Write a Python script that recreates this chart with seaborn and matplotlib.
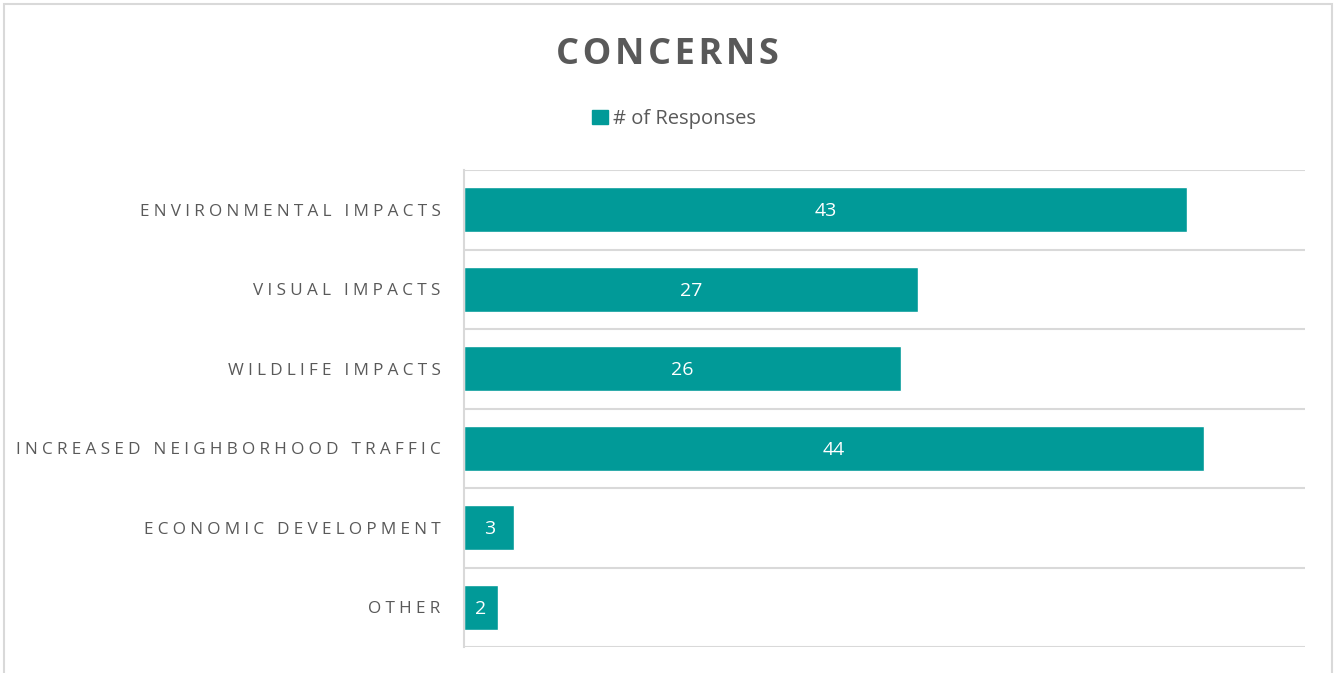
import matplotlib
matplotlib.use("Agg")
import matplotlib.pyplot as plt
import seaborn as sns
import pandas as pd
from matplotlib.patches import Rectangle

categories = [
    "ENVIRONMENTAL IMPACTS",
    "VISUAL IMPACTS",
    "WILDLIFE IMPACTS",
    "INCREASED NEIGHBORHOOD TRAFFIC",
    "ECONOMIC DEVELOPMENT",
    "OTHER",
]
responses = [43, 27, 26, 44, 3, 2]
series_name = "# of Responses"
chart_title = "CONCERNS"

TEAL = "#019A98"
TEXT_GRAY = "#595959"
GRID_GRAY = "#D9D9D9"

sns.set_theme(style="white")
plt.rcParams["font.family"] = ["Open Sans", "DejaVu Sans"]


def spaced(s, gap="\u200a"):
    return gap.join(s)


df = pd.DataFrame({"category": categories, "value": responses})

fig = plt.figure(figsize=(13.34, 6.73), dpi=100)
W, H = 1334, 673
ax = fig.add_axes([464 / W, 1 - 647 / H, (1305 - 464) / W, (647 - 170) / H])

sns.barplot(data=df, x="value", y="category", orient="h", color=TEAL,
            width=0.56, saturation=1, ax=ax)

ax.set_xlim(0, 50)
ax.set_ylim(len(categories) - 0.5, -0.5)

# value labels inside bars
for i, v in enumerate(responses):
    ax.text(v / 2, i + 0.02, str(v), ha="center", va="center", color="white",
            fontsize=14)

# category boundary gridlines
ax.set_yticks([i - 0.5 for i in range(len(categories) + 1)], minor=True)
ax.grid(True, axis="y", which="minor", color=GRID_GRAY, linewidth=1.5)
ax.grid(False, axis="x")
ax.set_axisbelow(True)
ax.tick_params(axis="y", which="both", length=0, pad=17)
ax.tick_params(axis="x", length=0, labelbottom=False)
ax.set_yticks(range(len(categories)))
ax.set_yticklabels([spaced(c, "\u2005") for c in categories], fontsize=12.3,
                   color=TEXT_GRAY)
ax.set_xlabel("")
ax.set_ylabel("")
for side in ["top", "right", "bottom"]:
    ax.spines[side].set_visible(False)
ax.spines["left"].set_color(GRID_GRAY)
ax.spines["left"].set_linewidth(1.5)

# title
fig.text(0.5, 1 - 55 / H, spaced(chart_title, "\u200a"), ha="center",
         va="center", fontsize=26, fontweight="bold", color=TEXT_GRAY)

# legend
handle = Rectangle((0, 0), 1, 1, color=TEAL)
fig.legend([handle], [series_name], loc="center",
           bbox_to_anchor=(674 / W, 1 - 119 / H), frameon=False,
           fontsize=14.5, handlelength=0.75, handleheight=0.75,
           handletextpad=0.25, labelcolor=TEXT_GRAY)

# outer chart border
fig.patches.append(Rectangle((4 / W, -0.01), (1332 - 4) / W, 1 - 4 / H + 0.01,
                             transform=fig.transFigure, fill=False,
                             edgecolor=GRID_GRAY, linewidth=1.5))

fig.savefig("out.png", dpi=100, facecolor="white")
